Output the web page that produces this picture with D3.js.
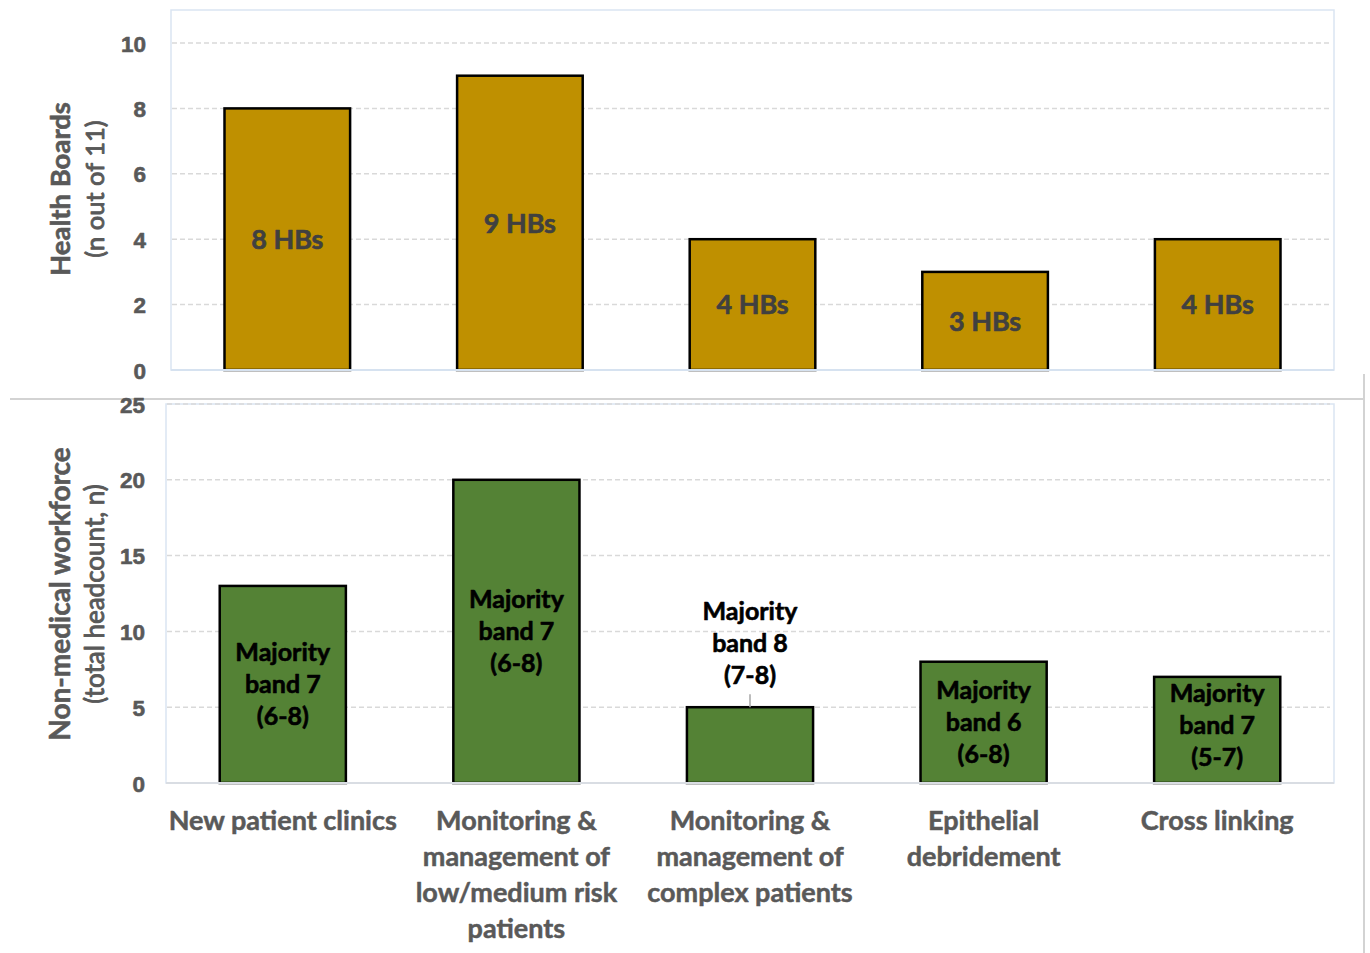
<!DOCTYPE html>
<html>
<head>
<meta charset="utf-8">
<script src="https://cdn.jsdelivr.net/npm/d3@7"></script>
<style>
  html, body { margin: 0; padding: 0; background: #fff; }
  svg { display: block; font-family: Lato, "Open Sans", sans-serif; }
  .heavy { paint-order: stroke; stroke-linejoin: round; }
</style>
</head>
<body>
<svg id="chart" width="1370" height="953"></svg>
<script>
// Service activities shared by both panels
const categories = [
  ["New patient clinics"],
  ["Monitoring &", "management of", "low/medium risk", "patients"],
  ["Monitoring &", "management of", "complex patients"],
  ["Epithelial", "debridement"],
  ["Cross linking"]
];

// Panel 1: number of Health Boards delivering each activity
const healthBoards = [8, 9, 4, 3, 4];
const healthBoardLabels = ["8 HBs", "9 HBs", "4 HBs", "3 HBs", "4 HBs"];
const hbTicks = [0, 2, 4, 6, 8, 10];

// Panel 2: non-medical workforce headcount and banding
const workforce = [13, 20, 5, 8, 7];
const workforceLabels = [
  ["Majority", "band 7", "(6-8)"],
  ["Majority", "band 7", "(6-8)"],
  ["Majority", "band 8", "(7-8)"],
  ["Majority", "band 6", "(6-8)"],
  ["Majority", "band 7", "(5-7)"]
];
const wfTicks = [0, 5, 10, 15, 20, 25];

const svg = d3.select("#chart");
const TICK_COLOR = "#595959";
const GRID_COLOR = "#d9d9d9";
const FRAME_COLOR = "#dae5f2";

// bold text with a thin same-colour outline for a heavier face
function heavy(sel, color, w) {
  return sel.attr("class", "heavy").attr("fill", color)
    .attr("stroke", color).attr("stroke-width", w);
}

function panel(opts) {
  const x = d3.scaleBand()
    .domain(d3.range(categories.length))
    .range([opts.left, opts.right])
    .paddingInner(0.46)
    .paddingOuter(0.23);
  const y = d3.scaleLinear().domain(opts.domain).range([opts.bottom, opts.top0]);

  const g = svg.append("g");

  // plot frame
  g.append("rect")
    .attr("x", opts.left).attr("y", opts.frameTop)
    .attr("width", opts.right - opts.left).attr("height", opts.bottom - opts.frameTop)
    .attr("fill", "none").attr("stroke", FRAME_COLOR).attr("stroke-width", 1.5);

  // dashed gridlines
  g.selectAll("line.grid").data(opts.ticks.filter(t => t > 0)).join("line")
    .attr("x1", opts.left + 1).attr("x2", opts.right - 4)
    .attr("y1", d => y(d)).attr("y2", d => y(d))
    .attr("stroke", GRID_COLOR).attr("stroke-width", 1.5)
    .attr("stroke-dasharray", "5,3");

  // y axis labels
  const axis = d3.axisLeft(y).tickValues(opts.ticks).tickSize(0).tickPadding(0);
  const ax = g.append("g").attr("transform", `translate(${opts.tickX},0)`).call(axis);
  ax.select(".domain").remove();
  heavy(ax.selectAll("text"), TICK_COLOR, 0.6)
    .attr("font-size", 22.5).attr("font-weight", 700)
    .attr("dy", "0.36em");

  // bars
  g.selectAll("rect.bar").data(opts.values).join("rect")
    .attr("x", (d, i) => x(i)).attr("width", x.bandwidth())
    .attr("y", d => y(d)).attr("height", d => y(0) - y(d))
    .attr("fill", opts.fill).attr("stroke", "#000").attr("stroke-width", 2.5);

  // axis baseline
  g.append("line")
    .attr("x1", opts.left).attr("x2", opts.right)
    .attr("y1", y(0)).attr("y2", y(0))
    .attr("stroke", opts.baseColor).attr("stroke-width", 2);

  // y axis title
  const ty = g.append("g")
    .attr("transform", `translate(${opts.titleX},${opts.titleY}) rotate(-90)`);
  heavy(ty.append("text"), TICK_COLOR, 0.6)
    .attr("text-anchor", "middle").attr("y", 0)
    .attr("font-size", opts.titleSizes[0]).attr("font-weight", 700)
    .text(opts.title[0]);
  heavy(ty.append("text"), TICK_COLOR, 0.9)
    .attr("text-anchor", "middle").attr("y", 34)
    .attr("font-size", opts.titleSizes[1]).attr("font-weight", 400)
    .text(opts.title[1]);

  return { x, y, g };
}

// ---- Panel 1: Health Boards ----
const p1 = panel({
  left: 171, right: 1334, bottom: 370, top0: 43, frameTop: 10,
  domain: [0, 10], ticks: hbTicks, tickX: 146,
  values: healthBoards, fill: "#bf9000", baseColor: "#d6e2f0",
  title: ["Health Boards", "(n out of 11)"], titleSizes: [27.5, 25.5],
  titleX: 70, titleY: 189
});
heavy(p1.g.selectAll("text.hb").data(healthBoards).join("text"), "#404040", 0.6)
  .attr("x", (d, i) => p1.x(i) + p1.x.bandwidth() / 2)
  .attr("y", d => p1.y(d / 2))
  .attr("dy", "0.36em")
  .attr("text-anchor", "middle")
  .attr("font-size", 27).attr("font-weight", 700)
  .text((d, i) => healthBoardLabels[i]);

// ---- separator lines between panels ----
svg.append("line").attr("x1", 10).attr("x2", 1363).attr("y1", 399).attr("y2", 399)
  .attr("stroke", "#c4c4c4").attr("stroke-width", 1.5);
svg.append("line").attr("x1", 1364).attr("x2", 1364).attr("y1", 374).attr("y2", 953)
  .attr("stroke", "#c4c4c4").attr("stroke-width", 1.5);

// ---- Panel 2: workforce ----
const p2 = panel({
  left: 166, right: 1334, bottom: 783, top0: 404, frameTop: 404,
  domain: [0, 25], ticks: wfTicks, tickX: 145,
  values: workforce, fill: "#548235", baseColor: "#d9dde3",
  title: ["Non-medical workforce", "(total headcount, n)"], titleSizes: [28, 26],
  titleX: 70, titleY: 594
});

const LINE_H = 32;
const BLOCK_H = LINE_H * 3;
workforce.forEach((v, i) => {
  const lines = workforceLabels[i];
  const cx = p2.x(i) + p2.x.bandwidth() / 2;
  const barH = p2.y(0) - p2.y(v);
  let cy;
  const outside = barH < BLOCK_H;
  if (outside) {
    // label sits above a short bar, joined by a leader line
    cy = p2.y(v) - 16 - BLOCK_H / 2;
    p2.g.append("line")
      .attr("x1", cx).attr("x2", cx)
      .attr("y1", p2.y(v) - 13).attr("y2", p2.y(v))
      .attr("stroke", "#a6a6a6").attr("stroke-width", 1.5);
  } else {
    cy = Math.min(p2.y(v / 2), p2.y(0) - BLOCK_H / 2 - 10);
  }
  const t = heavy(p2.g.append("text"), "#000", 0.6)
    .attr("text-anchor", "middle")
    .attr("font-size", 25).attr("font-weight", 700);
  lines.forEach((s, k) => {
    t.append("tspan").attr("x", cx)
      .attr("y", cy + (k - 1) * LINE_H)
      .attr("dy", "0.36em")
      .text(s);
  });
});

// category labels under the lower panel
categories.forEach((lines, i) => {
  const cx = p2.x(i) + p2.x.bandwidth() / 2;
  const t = heavy(svg.append("text"), TICK_COLOR, 0.5)
    .attr("text-anchor", "middle")
    .attr("font-size", 27).attr("font-weight", 700);
  lines.forEach((s, k) => {
    t.append("tspan").attr("x", cx).attr("y", 820 + k * 36).attr("dy", "0.36em").text(s);
  });
});
</script>
</body>
</html>
